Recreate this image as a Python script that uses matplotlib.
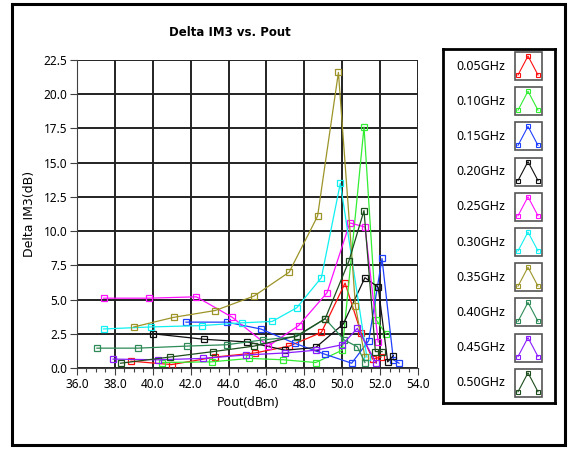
import numpy as np
import matplotlib
matplotlib.use("Agg")
import matplotlib.pyplot as plt
from matplotlib.patches import Rectangle
from matplotlib.lines import Line2D

plt.rcParams["font.family"] = ["Noto Sans", "DejaVu Sans"]

# Delta IM3 (dB) vs Pout (dBm), one series per frequency
labels = ["0.05GHz", "0.10GHz", "0.15GHz", "0.20GHz", "0.25GHz",
          "0.30GHz", "0.35GHz", "0.40GHz", "0.45GHz", "0.50GHz"]
colors = ["#ff1010", "#33ee33", "#1f3fff", "#101010", "#ff10ff",
          "#10f0f0", "#9c9428", "#2e8b57", "#8a1cff", "#1d4d1d"]

pout_005 = [38.85, 41.0, 43.3, 45.4, 47.2, 48.9, 50.15, 51.0, 51.6, 52.05]
im3_005 = [0.5, 0.25, 0.8, 1.1, 1.6, 2.6, 6.2, 2.55, 0.65, 0.8]
pout_010 = [40.5, 43.1, 45.1, 46.9, 48.6, 50.0, 51.15, 51.8, 52.3]
im3_010 = [0.4, 0.45, 0.7, 0.6, 0.4, 1.3, 17.6, 3.5, 2.5]
pout_015 = [41.75, 43.9, 45.7, 47.5, 49.1, 50.5, 51.4, 52.1, 52.7, 53.0]
im3_015 = [3.35, 3.35, 2.85, 1.8, 1.0, 0.35, 2.0, 8.0, 0.6, 0.35]
pout_020 = [40.0, 42.7, 45.0, 47.0, 48.6, 50.05, 51.2, 51.9, 52.4, 52.7]
im3_020 = [2.5, 2.1, 1.9, 1.3, 1.5, 3.2, 6.6, 5.9, 0.45, 0.9]
pout_025 = [37.4, 39.8, 42.3, 44.2, 46.1, 47.7, 49.2, 50.4, 51.2, 51.9]
im3_025 = [5.1, 5.1, 5.2, 3.7, 1.6, 3.1, 5.5, 10.6, 10.3, 1.9]
pout_030 = [37.4, 39.9, 42.6, 44.7, 46.3, 47.6, 48.9, 49.9, 51.3]
im3_030 = [2.85, 3.0, 3.1, 3.3, 3.4, 4.4, 6.6, 13.5, 0.8]
pout_035 = [39.0, 41.1, 43.3, 45.35, 47.2, 48.7, 49.8, 50.7, 51.2]
im3_035 = [3.0, 3.7, 4.2, 5.26, 7.0, 11.1, 21.6, 4.5, 0.8]
pout_040 = [37.05, 39.2, 41.8, 43.9, 45.8, 47.6, 49.1, 50.1, 50.8, 51.2]
im3_040 = [1.45, 1.45, 1.6, 1.7, 2.05, 2.3, 3.6, 2.05, 1.55, 0.4]
pout_045 = [37.9, 40.3, 42.65, 44.9, 47.0, 48.6, 50.0, 50.8, 51.8]
im3_045 = [0.65, 0.6, 0.7, 0.95, 1.1, 1.3, 1.7, 2.9, 0.35]
pout_050 = [38.3, 40.9, 43.2, 45.35, 47.6, 49.1, 50.35, 51.15, 51.75, 52.1]
im3_050 = [0.35, 0.8, 1.2, 1.6, 2.35, 3.6, 7.8, 11.5, 1.2, 1.2]

xs = [pout_005, pout_010, pout_015, pout_020, pout_025,
      pout_030, pout_035, pout_040, pout_045, pout_050]
ys = [im3_005, im3_010, im3_015, im3_020, im3_025,
      im3_030, im3_035, im3_040, im3_045, im3_050]

fig = plt.figure(figsize=(5.69, 4.49), dpi=100)

# outer frame
fig.patches.append(Rectangle((12 / 569, 1 - 445 / 449), 553 / 569, 441 / 449,
                             transform=fig.transFigure, fill=False,
                             edgecolor="black", linewidth=2.2))

ax = fig.add_axes([77 / 569, 1 - 368 / 449, 341 / 569, 308 / 449])
for x, y, c in zip(xs, ys, colors):
    ax.plot(x, y, color=c, lw=0.9, marker="s", ms=5, mfc="none", mec=c, mew=0.9)

ax.set_xlim(36, 54)
ax.set_ylim(0, 22.5)
ax.set_xticks(np.arange(36, 54.1, 2))
ax.set_xticks(np.arange(36, 54.1, 0.5), minor=True)
ax.set_yticks(np.arange(0, 22.6, 2.5))
ax.set_xticklabels([f"{v:.1f}" for v in np.arange(36, 54.1, 2)], fontsize=8.5)
ax.set_yticklabels([f"{v:.1f}" for v in np.arange(0, 22.6, 2.5)], fontsize=8.5)
ax.tick_params(axis="both", which="major", length=5, width=0.8, color="#404040", pad=2)
ax.tick_params(axis="x", which="minor", length=3, width=0.8, color="#404040")
ax.grid(True, which="major", color="#222222", lw=1.4)
ax.set_axisbelow(True)
for s in ["top", "right"]:
    ax.spines[s].set_visible(False)
for s in ["left", "bottom"]:
    ax.spines[s].set_color("#404040")
ax.set_xlabel("Pout(dBm)", fontsize=9, labelpad=4)
ax.set_ylabel("Delta IM3(dB)", fontsize=9, family="DejaVu Sans", labelpad=5)

fig.text(230 / 569, 1 - 32 / 449, "Delta IM3 vs. Pout", ha="center", va="center",
         fontsize=8.5, fontweight="bold", family="DejaVu Sans")

# legend panel
lax = fig.add_axes([443 / 569, 1 - 403 / 449, 112 / 569, 354 / 449])
lax.set_xlim(443, 555)
lax.set_ylim(403, 49)
lax.set_xticks([])
lax.set_yticks([])
for s in lax.spines.values():
    s.set_linewidth(2)
for i, (lab, c) in enumerate(zip(labels, colors)):
    yc = 66 + i * 35.2
    lax.text(481, yc, lab, ha="center", va="center", fontsize=9)
    lax.add_patch(Rectangle((515, yc - 14), 27, 28, fill=False,
                            edgecolor="#555555", lw=1.2))
    lax.add_line(Line2D([518, 528, 538], [yc + 9, yc - 10, yc + 9], color=c, lw=0.8,
                        marker="s", ms=3, mfc="none", mec=c, mew=0.8))

fig.savefig("out.png", dpi=100)
